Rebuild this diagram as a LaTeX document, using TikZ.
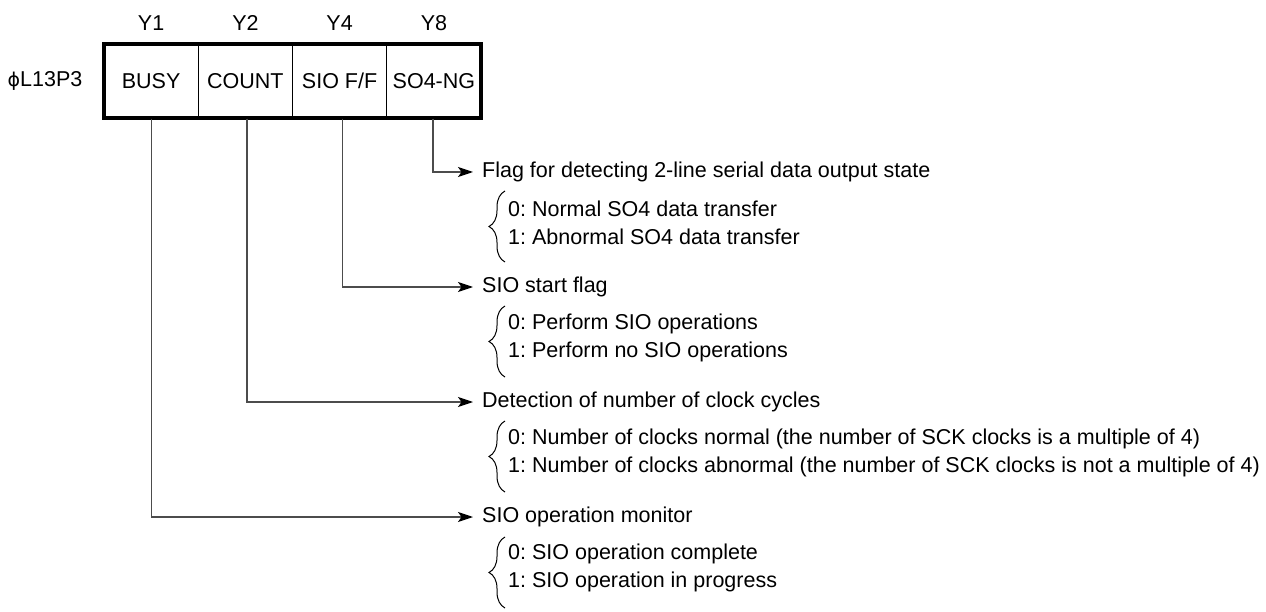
\documentclass[tikz,border=0pt]{standalone}
\usepackage{fontspec}
\setmainfont{Liberation Sans}
\newfontfamily\phifont{DejaVu Sans}
\usetikzlibrary{arrows.meta, decorations.pathreplacing}
\frenchspacing

\begin{document}
\begin{tikzpicture}[x=1pt, y=-1pt, font=\fontsize{21.5}{24}\selectfont,
    cell/.style={draw, line width=1.3pt, minimum width=94.25pt, minimum height=74pt, inner sep=0pt},
    txt/.style={anchor=west, inner sep=0pt},
    lead/.style={draw=black!70, line width=1.2pt, -{Stealth[length=15pt, width=10pt, inset=3.5pt, color=black, fill=black]}},
    brc/.style={decorate, decoration={brace, amplitude=16pt}, line width=1pt}]
    \useasboundingbox (0,0) rectangle (1266,612);
    \node[cell] (busy) at (151.1,81) {BUSY};
    \node[cell] (count) at (245.4,81) {COUNT};
    \node[cell] (siof) at (339.6,81) {SIO F/F};
    \node[cell] (songk) at (433.9,81) {SO4-NG};
    \draw[line width=4pt] (104,44) rectangle (481,118);
    \node (reg) at (45,81) {{\phifont\fontsize{19}{24}\selectfont ϕ}L13P3};
    \node (y1) at (151.1,23) {Y1};
    \node (y2) at (245.4,23) {Y2};
    \node (y4) at (339.6,23) {Y4};
    \node (y8) at (433.9,23) {Y8};
    \node[txt] (ngflag) at (482,172) {Flag for detecting 2-line serial data output state};
    \node[txt] (ng0) at (508,209) {0: Normal SO4 data transfer};
    \node[txt] (ng1) at (508,237) {1: Abnormal SO4 data transfer};
    \node[txt] (stflag) at (482,287) {SIO start flag};
    \node[txt] (st0) at (508,324) {0: Perform SIO operations};
    \node[txt] (st1) at (508,352) {1: Perform no SIO operations};
    \node[txt] (clk) at (482,402) {Detection of number of clock cycles};
    \node[txt] (clk0) at (508,439) {0: Number of clocks normal (the number of SCK clocks is a multiple of 4)};
    \node[txt] (clk1) at (508,467) {1: Number of clocks abnormal (the number of SCK clocks is not a multiple of 4)};
    \node[txt] (mon) at (482,517) {SIO operation monitor};
    \node[txt] (mon0) at (508,554) {0: SIO operation complete};
    \node[txt] (mon1) at (508,582) {1: SIO operation in progress};
    \draw[lead] ([xshift=-1pt]songk.south) |- ([xshift=-9pt]ngflag.west);
    \draw[lead] ([xshift=3pt]siof.south) |- ([xshift=-9pt]stflag.west);
    \draw[lead] ([xshift=1.5pt]count.south) |- ([xshift=-9pt]clk.west);
    \draw[lead] (busy.south) |- ([xshift=-9pt]mon.west);
    \draw[brc] (505,262) -- (505,191);
    \draw[brc] (505,377) -- (505,306);
    \draw[brc] (505,492) -- (505,421);
    \draw[brc] (505,608) -- (505,537);
\end{tikzpicture}
\end{document}
